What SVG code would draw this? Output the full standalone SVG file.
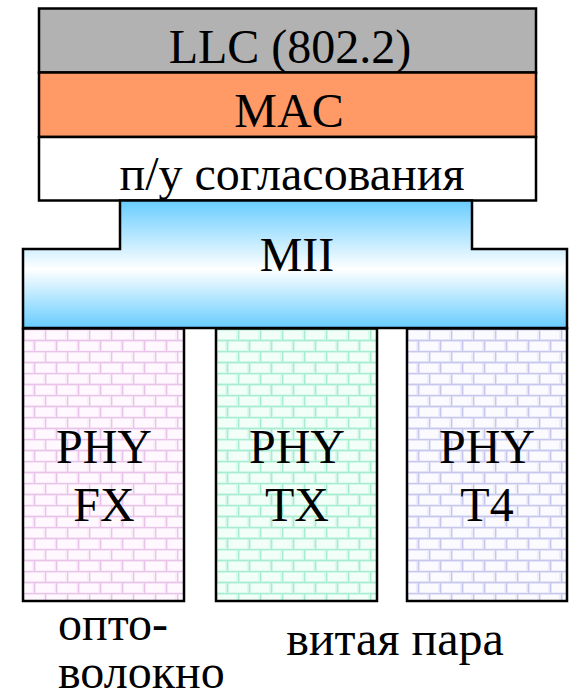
<svg xmlns="http://www.w3.org/2000/svg" width="569" height="699" viewBox="0 0 569 699">
<style>
.box{stroke:#000;stroke-width:2.5}
.t{font-family:"Liberation Serif","Times New Roman",serif;font-size:48px;fill:#000;text-anchor:middle}
.tl{font-family:"Liberation Serif","Times New Roman",serif;font-size:48px;fill:#000}
</style>
<defs>
<linearGradient id="miiG" x1="0" y1="200" x2="0" y2="328" gradientUnits="userSpaceOnUse">
<stop offset="0" stop-color="#66ccff"/>
<stop offset="0.54" stop-color="#ffffff"/>
<stop offset="1" stop-color="#66ccff"/>
</linearGradient>
<pattern id="brickP" width="22" height="22" patternUnits="userSpaceOnUse" x="23" y="329">
<rect width="22" height="22" fill="#fbeefb"/>
<rect x="2" y="2" width="18" height="8" fill="#fff8ff"/>
<rect x="-9" y="13" width="18" height="8" fill="#fff8ff"/>
<rect x="13" y="13" width="18" height="8" fill="#fff8ff"/>
<path d="M0 0.5H22M0 11.5H22M0.5 0V11M11.5 11V22" stroke="#e8c4e8" stroke-width="1.5" fill="none"/>
</pattern>
<pattern id="brickG" width="22" height="22" patternUnits="userSpaceOnUse" x="216" y="329">
<rect width="22" height="22" fill="#dcfaee"/>
<rect x="2" y="2" width="18" height="8" fill="#f2fff9"/>
<rect x="-9" y="13" width="18" height="8" fill="#f2fff9"/>
<rect x="13" y="13" width="18" height="8" fill="#f2fff9"/>
<path d="M0 0.5H22M0 11.5H22M0.5 0V11M11.5 11V22" stroke="#a8ecd2" stroke-width="1.5" fill="none"/>
</pattern>
<pattern id="brickL" width="22" height="22" patternUnits="userSpaceOnUse" x="407" y="329">
<rect width="22" height="22" fill="#eeeefb"/>
<rect x="2" y="2" width="18" height="8" fill="#fbfbff"/>
<rect x="-9" y="13" width="18" height="8" fill="#fbfbff"/>
<rect x="13" y="13" width="18" height="8" fill="#fbfbff"/>
<path d="M0 0.5H22M0 11.5H22M0.5 0V11M11.5 11V22" stroke="#c8c8ee" stroke-width="1.5" fill="none"/>
</pattern>
</defs>
<g id="llc">
<rect class="box" x="39" y="8.5" width="497" height="64" fill="#b2b2b2"/>
<text class="t" x="290" y="63">LLC (802.2)</text>
</g>
<g id="mac">
<rect class="box" x="39" y="72.5" width="497" height="64.5" fill="#ff9966"/>
<text class="t" x="289" y="127">MAC</text>
</g>
<g id="rs">
<rect class="box" x="39" y="137" width="497" height="63.5" fill="#ffffff"/>
<text class="t" x="292" y="190">п/у согласования</text>
</g>
<g id="mii">
<path class="box" d="M120 200.5H472V249H567V328H23V249H120Z" fill="url(#miiG)"/>
<text class="t" x="297" y="271">MII</text>
</g>
<g id="phy-fx">
<rect class="box" x="23" y="328.5" width="161" height="272.5" fill="url(#brickP)"/>
<text class="t" x="104" y="463">PHY</text>
<text class="t" x="104" y="521">FX</text>
</g>
<g id="phy-tx">
<rect class="box" x="216" y="328.5" width="161" height="272.5" fill="url(#brickG)"/>
<text class="t" x="297" y="463">PHY</text>
<text class="t" x="297" y="521">TX</text>
</g>
<g id="phy-t4">
<rect class="box" x="407" y="328.5" width="160" height="272.5" fill="url(#brickL)"/>
<text class="t" x="487" y="463">PHY</text>
<text class="t" x="487" y="521">T4</text>
</g>
<g id="labels">
<text class="tl" x="58" y="640">опто-</text>
<text class="tl" x="58" y="688">волокно</text>
<text class="t" x="395" y="655">витая пара</text>
</g>
<g id="connectors"/>
</svg>
